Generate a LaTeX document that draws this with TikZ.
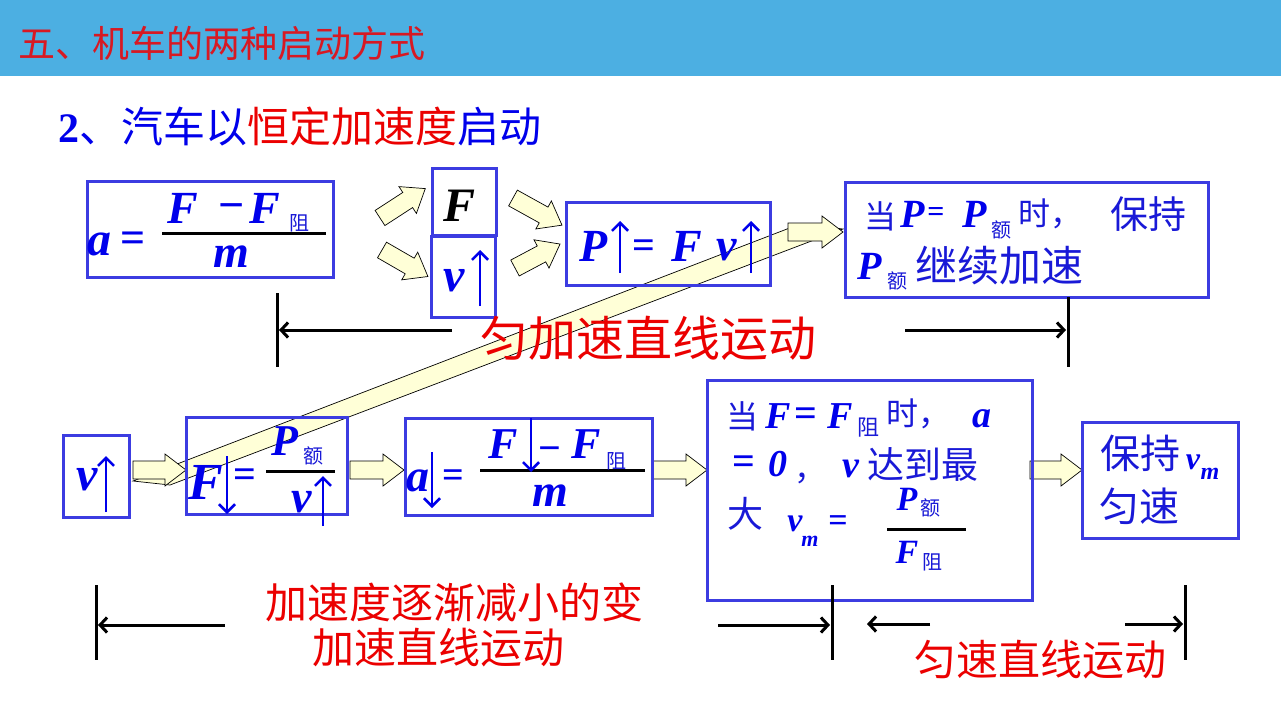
\documentclass[tikz,border=0pt]{standalone}
\usepackage{fontspec}
\setmainfont{Liberation Serif}
\newfontfamily\cjk{Noto Sans CJK SC}
\usetikzlibrary{arrows.meta}
\definecolor{barblue}{RGB}{76,175,226}
\definecolor{ttlred}{RGB}{215,25,35}
\definecolor{boxblue}{RGB}{60,60,225}
\definecolor{mblue}{RGB}{0,0,235}
\definecolor{cblue}{RGB}{25,25,215}
\definecolor{hred}{RGB}{235,0,0}
\definecolor{ayellow}{RGB}{255,255,215}
\newcommand\bim[1]{\fontsize{#1}{#1}\selectfont\bfseries\itshape}
\newcommand\cjs[1]{\cjk\fontsize{#1}{#1}\selectfont}
\newcommand\bup[1]{\fontsize{#1}{#1}\selectfont\bfseries}
\tikzset{
 box/.style={draw=boxblue, line width=3pt, inner sep=0pt},
 t/.style={inner sep=0pt, outer sep=0pt, anchor=center},
 mv/.style={t, text=mblue},
 sym/.style={inner sep=0pt, outer sep=0pt, anchor=base, text=mblue},
 cb/.style={t, text=cblue},
 bar/.style={line width=3pt, black},
 uparr/.style={draw=mblue, line width=2.6pt, -{Straight Barb[length=8pt,width=16pt]}},
 dim/.style={line width=3pt, -{Straight Barb[length=7pt,width=15pt]}},
 tickline/.style={line width=3pt},
 blk/.style={draw=black, line width=0.7pt, fill=ayellow, line join=miter},
}
\newcommand\blockarrow[4]{%
 \begin{scope}[shift={(#1,#2)}, rotate=#3]
 \draw[blk] (0,-9) -- ({#4-21},-9) -- ({#4-21},-16) -- (#4,0) -- ({#4-21},16) -- ({#4-21},9) -- (0,9) -- cycle;
 \end{scope}}
\begin{document}
\begin{tikzpicture}[x=1pt,y=-1pt]
\useasboundingbox (0,0) rectangle (1281,720);
\fill[white] (0,0) rectangle (1281,720);
\fill[barblue] (0,0) rectangle (1281,76);
\node[t, text=ttlred, font=\cjs{37}, anchor=west] (title) at (18,43) {五、机车的两种启动方式};
\node[t, anchor=west, font=\cjs{42}] (sub) at (58,127) {\textcolor{mblue}{{\rmfamily\bup{42}2}、汽车以}\textcolor{hred}{恒定加速度}\textcolor{mblue}{启动}};

% long diagonal band
\coordinate (bA) at (133,481); \coordinate (bB) at (800,224);
\coordinate (bC) at (843,229); \coordinate (bD) at (170,485);
\draw[blk] (bA) -- (bB) -- (bC) -- (bD) -- cycle;

% block arrows
\blockarrow{788}{232}{0}{55}
\blockarrow{133}{470}{0}{53}
\blockarrow{350}{470}{0}{54}
\blockarrow{653}{470}{0}{54}
\blockarrow{1030}{470}{0}{52}
\blockarrow{380}{218}{33}{54}
\blockarrow{382}{250}{-30}{53}
\blockarrow{513}{198}{-29}{56}
\blockarrow{515}{268}{28}{51}

% boxes
\node[box, minimum width=246, minimum height=96] (boxA) at (210,229) {};
\node[box, minimum width=64, minimum height=67] (boxF) at (464,201.5) {};
\node[box, minimum width=64, minimum height=81] (boxV) at (463,276.5) {};
\node[box, minimum width=204, minimum height=83] (boxP) at (668,243.5) {};
\node[box, minimum width=363, minimum height=115] (boxTR) at (1026.5,239.5) {};
\node[box, minimum width=66, minimum height=82] (boxV2) at (96,476) {};
\node[box, minimum width=161, minimum height=97] (boxF2) at (266.5,465.5) {};
\node[box, minimum width=247, minimum height=97] (boxA2) at (528.5,466.5) {};
\node[box, minimum width=325, minimum height=220] (boxM) at (869.5,490) {};
\node[box, minimum width=156, minimum height=116] (boxR) at (1160,480) {};

% box A
\node[mv, font=\bim{48}] (a1) at (99,244) {a};
\node[sym, font=\bup{44}] (a2) at (133,252) {=};
\draw[bar] (162,233) -- (326,233);
\node[mv, font=\bim{46}] (a3) at (183,208) {F};
\node[sym, font=\bup{46}] (a4) at (232,220) {−};
\node[mv, font=\bim{46}] (a5) at (265,208) {F};
\node[cb, font=\cjs{20}] (a6) at (299,223) {阻};
\node[mv, font=\bim{46}] (a7) at (231,257) {m};

% F and v boxes
\node[t, font=\bim{48}] (f1) at (460,206) {F};
\node[mv, font=\bim{48}] (v1) at (454,281) {v};
\draw[uparr] (480,306) -- (480,250);

% P box
\node[mv, font=\bim{46}] (p1) at (594,246) {P};
\draw[uparr] (620,273) -- (620,221);
\node[sym, font=\bup{40}] (p2) at (644,258) {=};
\node[mv, font=\bim{46}] (p3) at (687,246) {F};
\node[mv, font=\bim{46}] (p4) at (727,250) {v};
\draw[uparr] (751,273) -- (751,221);

% top right box
\node[cb, font=\cjs{32}] (r1) at (880,216) {当};
\node[mv, font=\bim{40}] (r2) at (913,214) {P};
\node[sym, font=\bup{30}] (r3) at (936,221) {=};
\node[mv, font=\bim{40}] (r4) at (975,214) {P};
\node[cb, font=\cjs{20}] (r5) at (1001,230) {额};
\node[cb, font=\cjs{32}, anchor=west] (r6) at (1018,214) {时，};
\node[cb, font=\cjs{38}] (r7) at (1148,214) {保持};
\node[mv, font=\bim{40}] (r8) at (870,266) {P};
\node[cb, font=\cjs{20}] (r9) at (897,281) {额};
\node[cb, font=\cjs{42}] (r10) at (999,266) {继续加速};

% top dimension
\draw[tickline] (277,293) -- (277,367);
\draw[tickline] (1068,297) -- (1068,367);
\draw[dim] (452,330) -- (279,330);
\draw[dim] (905,330) -- (1066,330);
\node[t, text=hred, font=\cjs{48}] (u1) at (648,338) {匀加速直线运动};

% bottom v box
\node[mv, font=\bim{48}] (w1) at (87,480) {v};
\draw[uparr] (106,512) -- (106,456);

% bottom F box
\node[mv, font=\bim{52}] (w2) at (206,482) {F};
\draw[uparr] (227,456) -- (227,514);
\node[sym, font=\bup{40}] (w3) at (245,487) {=};
\draw[bar] (266,471) -- (335,471);
\node[mv, font=\bim{44}] (w4) at (285,441) {P};
\node[cb, font=\cjs{20}] (w5) at (313,456) {额};
\node[mv, font=\bim{46}] (w6) at (302,502) {v};
\draw[uparr] (323,526) -- (323,476);

% bottom a box
\node[mv, font=\bim{46}] (x1) at (418,481) {a};
\draw[uparr] (432,452) -- (432,508);
\node[sym, font=\bup{38}] (x2) at (453,487) {=};
\draw[bar] (480,470) -- (645,470);
\node[mv, font=\bim{44}] (x3) at (503,444) {F};
\draw[uparr] (531,418) -- (531,472);
\node[sym, font=\bup{40}] (x4) at (550,461) {−};
\node[mv, font=\bim{44}] (x5) at (586,444) {F};
\node[cb, font=\cjs{20}] (x6) at (616,461) {阻};
\node[mv, font=\bim{46}] (x7) at (550,496) {m};

% middle box
\node[cb, font=\cjs{32}] (m1) at (742,416) {当};
\node[mv, font=\bim{38}] (m2) at (778,416) {F};
\node[sym, font=\bup{40}] (m3) at (806,426) {=};
\node[mv, font=\bim{38}] (m4) at (840,416) {F};
\node[cb, font=\cjs{22}] (m5) at (868,428) {阻};
\node[cb, font=\cjs{32}, anchor=west] (m6) at (886,414) {时，};
\node[mv, font=\bim{38}] (m7) at (982,419) {a};
\node[sym, font=\bup{40}] (m8) at (744,474) {=};
\node[mv, font=\bim{38}] (m9) at (778,464) {0};
\node[cb, font=\cjs{32}, anchor=base west] (m10) at (794,480) {，};
\node[mv, font=\bim{38}] (m11) at (851,469) {v};
\node[cb, font=\cjs{37}] (m12) at (923,464) {达到最};
\node[cb, font=\cjs{36}] (m13) at (745,514) {大};
\node[mv, font=\bim{34}] (m14) at (795,524) {v};
\node[mv, font=\bim{22}] (m15) at (810,541) {m};
\node[sym, font=\bup{34}] (m16) at (838,531) {=};
\draw[bar] (887,529) -- (966,529);
\node[mv, font=\bim{34}] (m17) at (907,499) {P};
\node[cb, font=\cjs{20}] (m18) at (930,508) {额};
\node[mv, font=\bim{34}] (m19) at (907,552) {F};
\node[cb, font=\cjs{20}] (m20) at (932,562) {阻};

% right box
\node[cb, font=\cjs{40}] (q1) at (1140,453) {保持};
\node[mv, font=\bim{32}] (q2) at (1193,462) {v};
\node[mv, font=\bim{24}] (q3) at (1210,474) {m};
\node[cb, font=\cjs{40}] (q4) at (1139,506) {匀速};

% bottom dimensions
\draw[tickline] (96,585) -- (96,660);
\draw[tickline] (832,585) -- (832,660);
\draw[tickline] (1185,585) -- (1185,660);
\draw[dim] (225,625) -- (98,625);
\draw[dim] (718,625) -- (830,625);
\draw[dim] (930,624) -- (867,624);
\draw[dim] (1125,624) -- (1183,624);
\node[t, text=hred, font=\cjs{42}] (l1) at (454,602) {加速度逐渐减小的变};
\node[t, text=hred, font=\cjs{42}] (l2) at (438,648) {加速直线运动};
\node[t, text=hred, font=\cjs{42}] (l3) at (1040,660) {匀速直线运动};
\end{tikzpicture}
\end{document}
